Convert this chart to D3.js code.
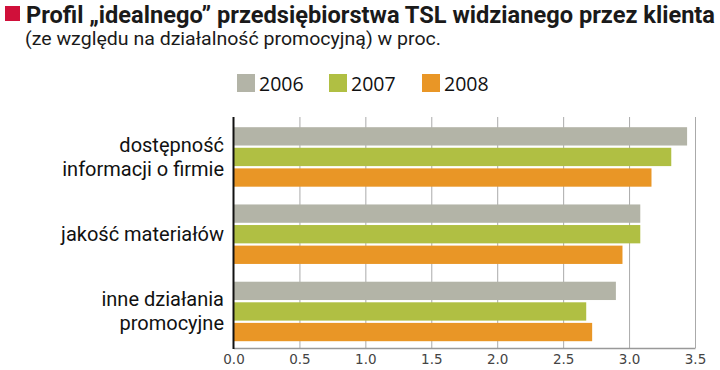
<!DOCTYPE html>
<html>
<head>
<meta charset="utf-8">
<script src="https://cdn.jsdelivr.net/npm/d3@7"></script>
<style>
  body { margin: 0; background: #fff; }
  svg { display: block; }
</style>
</head>
<body>
<div id="chart"></div>
<script>
const categories = [["dostępność", "informacji o firmie"], ["jakość materiałów"], ["inne działania", "promocyjne"]];
const years = ["2006", "2007", "2008"];
const values2006 = [3.44, 3.085, 2.9];
const values2007 = [3.32, 3.085, 2.675];
const values2008 = [3.17, 2.95, 2.72];
const xTicks = [0, 0.5, 1, 1.5, 2, 2.5, 3, 3.5];

const colors = { "2006": "#b3b4a7", "2007": "#b0bf43", "2008": "#e99626" };
const series = { "2006": values2006, "2007": values2007, "2008": values2008 };

const W = 720, H = 370;
const svg = d3.select("#chart").append("svg").attr("width", W).attr("height", H);

// Title (condensed look via textLength)
svg.append("rect").attr("x", 5).attr("y", 6).attr("width", 15).attr("height", 15).attr("fill", "#d0103a");
svg.append("text")
  .attr("x", 26).attr("y", 23)
  .attr("font-family", "'Roboto', sans-serif")
  .attr("font-weight", "bold").attr("font-size", 23).attr("fill", "#1a1a1a")
  .attr("textLength", 689).attr("lengthAdjust", "spacingAndGlyphs")
  .text("Profil „idealnego” przedsiębiorstwa TSL widzianego przez klienta");

svg.append("text")
  .attr("x", 25).attr("y", 45)
  .attr("font-family", "'Roboto', sans-serif")
  .attr("font-size", 17.5).attr("fill", "#1a1a1a")
  .attr("textLength", 416).attr("lengthAdjust", "spacingAndGlyphs")
  .text("(ze względu na działalność promocyjną) w proc.");

// Legend
const legendX = [237, 329, 422];
years.forEach((yr, i) => {
  const g = svg.append("g").attr("transform", `translate(${legendX[i]},74)`);
  g.append("rect").attr("width", 18).attr("height", 18).attr("fill", colors[yr]);
  g.append("text").attr("x", 22).attr("y", 16.5)
    .attr("font-family", "'Open Sans', sans-serif").attr("font-size", 19.5).attr("fill", "#111")
    .text(yr);
});

// Scales
const x = d3.scaleLinear().domain([0, 3.5]).range([233.5, 695]);
const y = d3.scaleBand().domain(d3.range(categories.length)).range([117, 348])
  .paddingInner(0.23).paddingOuter(0.11).align(0.6);
const yInner = d3.scaleBand().domain(years).range([0, y.bandwidth()]).paddingInner(0.11);

// Gridlines
svg.append("g")
  .attr("transform", "translate(0,348)")
  .call(d3.axisBottom(x).tickValues(xTicks.slice(1)).tickSize(-231).tickFormat(""))
  .call(g => g.select(".domain").remove())
  .call(g => g.selectAll("line").attr("stroke", "#aaaaaa").attr("stroke-width", 1));

// Bars
const groups = svg.append("g").selectAll("g").data(categories).join("g")
  .attr("transform", (d, i) => `translate(0,${y(i)})`);
years.forEach(yr => {
  groups.append("rect")
    .attr("x", x(0))
    .attr("y", yInner(yr))
    .attr("height", yInner.bandwidth())
    .attr("width", (d, i) => x(series[yr][i]) - x(0))
    .attr("fill", colors[yr]);
});

// Bottom axis
const xAxis = svg.append("g")
  .attr("transform", "translate(0,348)")
  .call(d3.axisBottom(x).tickValues(xTicks).tickSize(0).tickPadding(6).tickFormat(d3.format(".1f")));
xAxis.select(".domain").attr("stroke", "#999").attr("stroke-width", 1.5);
xAxis.selectAll("text")
  .attr("font-family", "'DejaVu Sans', sans-serif").attr("font-size", 13.5).attr("fill", "#444");

// Left axis line
svg.append("line").attr("x1", x(0)).attr("x2", x(0)).attr("y1", 117).attr("y2", 349)
  .attr("stroke", "#111").attr("stroke-width", 2);

// Category labels, one text per line
groups.each(function (lines) {
  const g = d3.select(this);
  const lh = 24;
  const cy = y.bandwidth() / 2;
  lines.forEach((ln, k) => {
    g.append("text")
      .attr("text-anchor", "end")
      .attr("font-family", "'Roboto', sans-serif").attr("font-size", 20).attr("fill", "#111")
      .attr("x", 224)
      .attr("y", cy + (k - (lines.length - 1) / 2) * lh + 7)
      .text(ln);
  });
});
</script>
</body>
</html>
